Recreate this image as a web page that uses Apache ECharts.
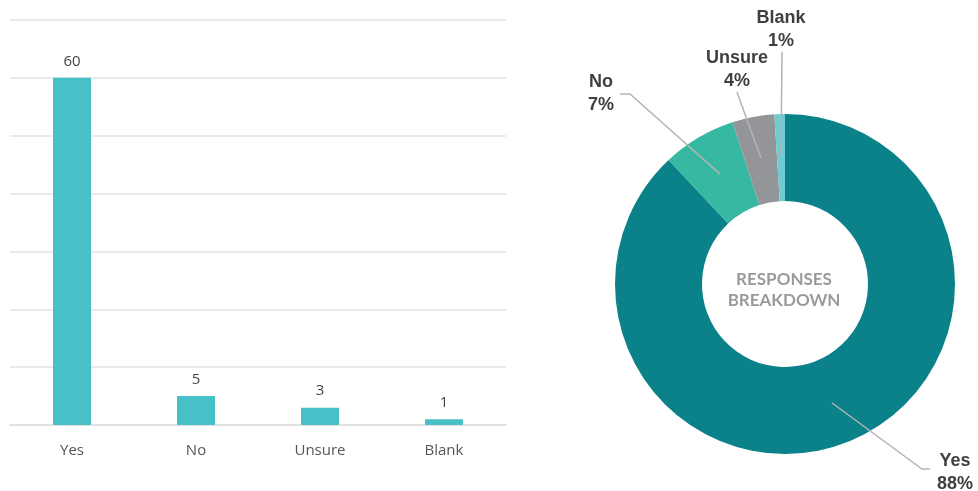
<!DOCTYPE html>
<html>
<head>
<meta charset="utf-8">
<script src="https://cdn.jsdelivr.net/npm/echarts@6/dist/echarts.min.js"></script>
<style>
  html, body { margin: 0; padding: 0; background: #ffffff; }
  #chart { width: 978px; height: 491px; }
</style>
</head>
<body>
<div id="chart"></div>
<script>
// Response counts for the bar chart
const categories = ['Yes', 'No', 'Unsure', 'Blank'];
const counts = [60, 5, 3, 1];
// Share of responses (percent) for the donut
const shares = [88, 7, 4, 1];

const barColor = '#48c0c7';
const sliceColors = ['#0b8189', '#37b8a2', '#939598', '#6ecbd1'];

// Donut geometry
const pieCenter = [785, 284];
const pieRadius = [83, 170];
const guideRadius = 128;

// Where each donut label sits and where its guide line bends
const labelSpots = {
  Yes:    { x: 955, y: 473, end: [930, 469], bend: [922, 469] },
  No:     { x: 601, y: 94,  end: [620, 94],  bend: [630, 94] },
  Unsure: { x: 737, y: 70,  end: [737, 92],  bend: [738, 95] },
  Blank:  { x: 781, y: 30,  end: [782, 52],  bend: [782, 54] }
};

const sliceData = categories.map((name, i) => ({
  name: name,
  value: shares[i],
  itemStyle: { color: sliceColors[i] }
}));

const chart = echarts.init(document.getElementById('chart'));

chart.setOption({
  animation: false,
  grid: { left: 10, right: 472, top: 20, bottom: 66 },
  xAxis: {
    type: 'category',
    data: categories,
    axisLine: { lineStyle: { color: '#e2e2e2', width: 2 } },
    axisTick: { show: false },
    axisLabel: { color: '#555', fontFamily: 'Open Sans', fontSize: 15, margin: 18 }
  },
  yAxis: {
    type: 'value',
    min: 0,
    max: 70,
    interval: 10,
    axisLine: { show: false },
    axisTick: { show: false },
    axisLabel: { show: false },
    splitLine: { lineStyle: { color: '#e2e2e2', width: 1.5 } }
  },
  graphic: [{
    type: 'text',
    x: pieCenter[0] - 1,
    y: pieCenter[1] + 6,
    z: 100,
    style: {
      text: 'RESPONSES\nBREAKDOWN',
      fill: '#9a9a9a',
      font: 'bold 17px Lato',
      lineHeight: 21,
      align: 'center',
      verticalAlign: 'middle'
    }
  }],
  series: [
    {
      type: 'bar',
      data: counts,
      barWidth: 38,
      itemStyle: { color: barColor },
      label: {
        show: true,
        position: 'top',
        distance: 9,
        color: '#444',
        fontFamily: 'Open Sans',
        fontSize: 15
      }
    },
    {
      // Visible donut ring
      type: 'pie',
      z: 2,
      center: pieCenter,
      radius: pieRadius,
      startAngle: 90,
      clockwise: true,
      label: { show: false },
      labelLine: { show: false },
      data: sliceData
    },
    {
      // Transparent copy on top carrying labels and guide lines
      type: 'pie',
      z: 5,
      center: pieCenter,
      radius: pieRadius,
      startAngle: 90,
      clockwise: true,
      silent: true,
      avoidLabelOverlap: false,
      itemStyle: { color: 'rgba(0,0,0,0)' },
      data: categories.map((name, i) => ({ name: name, value: shares[i] })),
      label: {
        show: true,
        position: 'outside',
        formatter: '{b}\n{c}%',
        color: '#3f3f3f',
        fontFamily: 'Liberation Sans',
        fontWeight: 'bold',
        fontSize: 18,
        lineHeight: 23,
        align: 'center'
      },
      labelLine: {
        show: true,
        lineStyle: { color: '#b4b4b4', width: 1.5 }
      },
      labelLayout: function (params) {
        const name = categories[params.dataIndex];
        const spot = labelSpots[name];
        // Start the guide line inside the ring, along the slice's mid angle
        const p0 = params.labelLinePoints ? params.labelLinePoints[0] : pieCenter;
        const dx = p0[0] - pieCenter[0];
        const dy = p0[1] - pieCenter[1];
        const len = Math.sqrt(dx * dx + dy * dy) || 1;
        const start = [pieCenter[0] + dx / len * guideRadius, pieCenter[1] + dy / len * guideRadius];
        return {
          x: spot.x,
          y: spot.y,
          align: 'center',
          verticalAlign: 'middle',
          labelLinePoints: [start, spot.bend, spot.end]
        };
      }
    }
  ]
});
</script>
</body>
</html>
